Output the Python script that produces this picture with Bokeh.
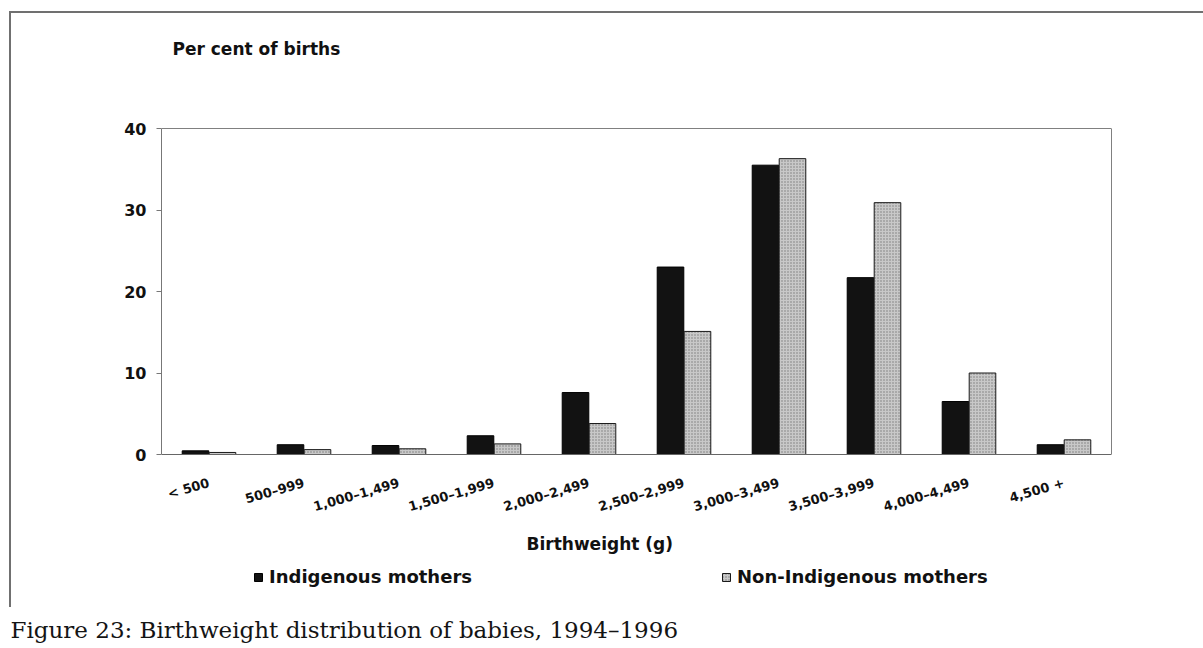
from bokeh.plotting import figure
from bokeh.models import (FactorRange, Range1d, FixedTicker, Legend, LegendItem,
                          Title, ColumnDataSource, LinearAxis, Label)
from bokeh.transform import dodge
from bokeh.embed import file_html
from bokeh.resources import INLINE

categories = ["< 500", "500\u2013999", "1,000\u20131,499", "1,500\u20131,999",
              "2,000\u20132,499", "2,500\u20132,999", "3,000\u20133,499",
              "3,500\u20133,999", "4,000\u20134,499", "4,500 +"]
indigenous = [0.45, 1.2, 1.1, 2.3, 7.6, 23.0, 35.5, 21.7, 6.5, 1.2]
non_indigenous = [0.25, 0.6, 0.7, 1.3, 3.8, 15.1, 36.3, 30.9, 10.0, 1.8]
series_names = ["Indigenous mothers", "Non-Indigenous mothers"]
y_ticks = [0, 10, 20, 30, 40]
y_max = 40

FONT = "DejaVu Sans"

# ---- pixel layout (page coordinates) ----
W, H = 1203, 648
FRAME_LEFT, FRAME_RIGHT = 161, 1111
FRAME_TOP, FRAME_BOTTOM = 20, 608
PX_ZERO, PX_TOP = 454, 128                 # where 0 and y_max sit
ppu = (PX_ZERO - PX_TOP) / y_max           # pixels per percentage point
cat_px = (FRAME_RIGHT - FRAME_LEFT) / len(categories)

def y_at(px):          # page pixel row -> data y
    return (PX_ZERO - px) / ppu

def x_at(px):          # page pixel column -> synthetic x
    return (px - FRAME_LEFT) / cat_px

src = ColumnDataSource(dict(cat=categories, ind=indigenous, non=non_indigenous))

p = figure(x_range=FactorRange(factors=categories, range_padding=0),
           y_range=Range1d(y_at(FRAME_BOTTOM), y_at(FRAME_TOP)),
           width=W, height=H,
           min_border_left=FRAME_LEFT, min_border_right=W - FRAME_RIGHT,
           min_border_top=FRAME_TOP, min_border_bottom=H - FRAME_BOTTOM,
           output_backend="svg", toolbar_location=None)

# outer page frame (top and left rules) drawn behind a transparent canvas
p.border_fill_alpha = 0
p.styles = {
    "background": ("linear-gradient(#707070,#707070) 10px 11px / 1193px 2px no-repeat, "
                   "linear-gradient(#707070,#707070) 9px 11px / 2px 596px no-repeat")
}
p.outline_line_color = None
p.background_fill_color = "white"
p.xgrid.grid_line_color = None
p.ygrid.grid_line_color = None

r1 = p.vbar(x=dodge("cat", -0.142, range=p.x_range), top="ind", width=0.28,
            source=src, fill_color="#121212", line_color="#000000", line_width=1)
r2 = p.vbar(x=dodge("cat", 0.142, range=p.x_range), top="non", width=0.28,
            source=src, fill_color="#c8c8c8", line_color="#1a1a1a", line_width=1,
            hatch_pattern=".", hatch_color="#7a7a7a", hatch_scale=3, hatch_weight=1)

# left value axis, limited to 0..40
p.yaxis.ticker = FixedTicker(ticks=y_ticks)
p.yaxis.bounds = (0, y_max)
p.yaxis.major_label_text_font = FONT
p.yaxis.major_label_text_font_size = "16px"
p.yaxis.major_label_text_font_style = "bold"
p.yaxis.major_label_text_color = "#111111"
p.yaxis.axis_line_color = "#777777"
p.yaxis.major_tick_line_color = "#777777"
p.yaxis.major_tick_out = 5
p.yaxis.major_tick_in = 0
p.yaxis.minor_tick_line_color = None
p.yaxis.major_label_standoff = 10

# category axis sitting on the zero line
p.xaxis.fixed_location = 0
p.xaxis.major_label_orientation = 0.28
p.xaxis.major_label_text_font = FONT
p.xaxis.major_label_text_font_size = "13px"
p.xaxis.major_label_text_font_style = "bold"
p.xaxis.major_label_text_color = "#111111"
p.xaxis.major_tick_line_color = None
p.xaxis.axis_line_color = "#666666"
p.xaxis.major_label_standoff = 22

# top and right rules of the chart box
top_rule = LinearAxis(fixed_location=y_max, ticker=FixedTicker(ticks=[]),
                      axis_line_color="#808080", major_tick_line_color=None,
                      minor_tick_line_color=None)
p.add_layout(top_rule, "below")
right_rule = LinearAxis(bounds=(0, y_max), ticker=FixedTicker(ticks=[]),
                        axis_line_color="#808080", major_tick_line_color=None,
                        minor_tick_line_color=None)
p.add_layout(right_rule, "right")

# texts
p.add_layout(Label(x=x_at(172), y=y_at(48), text="Per cent of births",
                   text_font=FONT, text_font_size="17px", text_font_style="bold",
                   text_color="#111111", text_baseline="middle", text_align="left"))
p.add_layout(Label(x=x_at(526), y=y_at(543), text="Birthweight (g)",
                   text_font=FONT, text_font_size="17px", text_font_style="bold",
                   text_color="#111111", text_baseline="middle", text_align="left"))

legend = Legend(items=[LegendItem(label=series_names[0], renderers=[r1]),
                       LegendItem(label=series_names[1], renderers=[r2])],
                orientation="horizontal",
                location=(253 - FRAME_LEFT, FRAME_BOTTOM - 587), spacing=249,
                glyph_width=10, glyph_height=10, label_standoff=6,
                label_height=20,
                label_text_font=FONT, label_text_font_size="18px",
                label_text_font_style="bold", label_text_color="#111111",
                border_line_color=None, background_fill_alpha=0,
                padding=0, margin=0)
p.add_layout(legend, "center")

cap = Title(text="Figure 23: Birthweight distribution of babies, 1994\u20131996",
            align="left", offset=10 - FRAME_LEFT, text_font="DejaVu Serif",
            text_font_size="23px", text_font_style="normal", text_color="#141414",
            standoff=12)
p.add_layout(cap, "below")

open("out.html", "w").write(file_html(p, INLINE))
